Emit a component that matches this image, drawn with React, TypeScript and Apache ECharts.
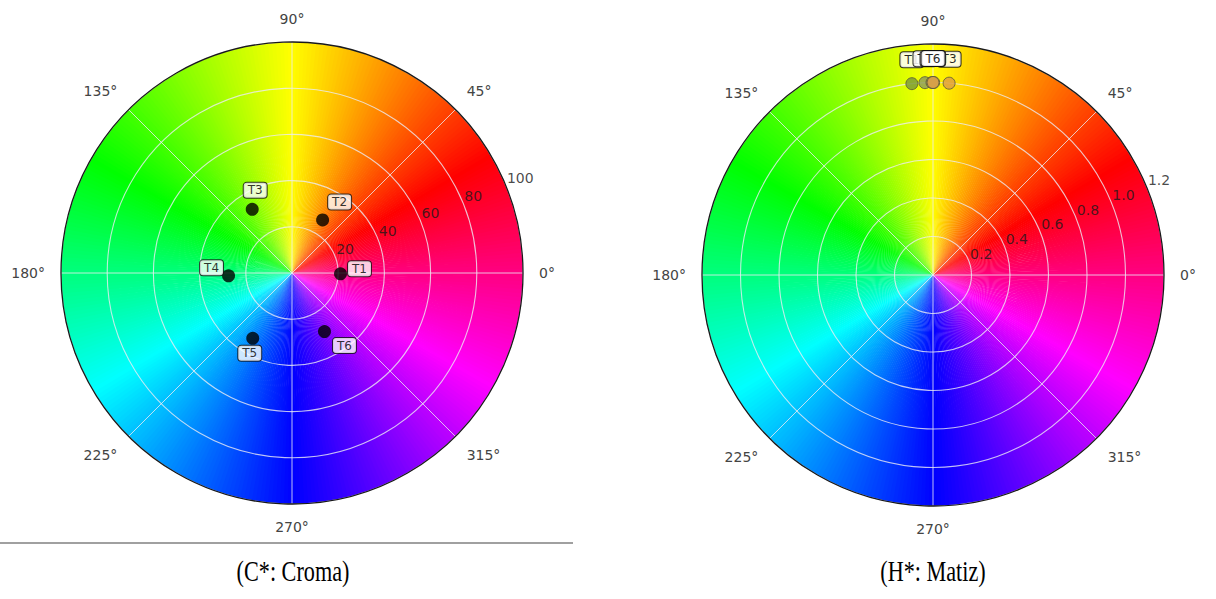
import React, { useEffect, useRef } from "react";
import * as echarts from "echarts";

// ---- data ----
const sampleNames = ["T1", "T2", "T3", "T4", "T5", "T6"];
// left wheel: hue angle (deg) and chroma C*
const chromaAngle = [359, 60, 122, 182.5, 239, 299];
const chromaValue = [21, 26.5, 32.5, 27.5, 33, 29];
// right wheel: hue angle (deg) and radius
const matizAngle = [96.3, 92.4, 85.2, 90.3, 89.8, 90.0];
const matizRadius = [1.0, 1.0, 1.0, 1.0, 1.0, 1.0];
// ticks
const angleTicks = [0, 45, 90, 135, 180, 225, 270, 315];
const chromaTicks = [20, 40, 60, 80, 100];
const matizTicks = [0.2, 0.4, 0.6, 0.8, 1.0, 1.2];
const captions = ["(C*: Croma)", "(H*: Matiz)"];

// ---- styles ----
const chromaLabelOffset = [
  [19, -5],
  [17, -18],
  [3, -19],
  [-17, -8],
  [-3, 15],
  [20, 14],
];
const matizDotColor = ["#7d9b3a", "#8f9f5a", "#e0a040", "#b8a050", "#c8a050", "#d8a048"];
const gridColor = "rgba(236,236,244,0.8)";
const FONT = "DejaVu Sans";

function hslToHex(h: number, s: number, l: number) {
  s /= 100;
  l /= 100;
  const k = (n: number) => (n + h / 30) % 12;
  const a = s * Math.min(l, 1 - l);
  const f = (n: number) => l - a * Math.max(-1, Math.min(k(n) - 3, Math.min(9 - k(n), 1)));
  const hx = (x: number) => Math.round(x * 255).toString(16).padStart(2, "0");
  return "#" + hx(f(0)) + hx(f(8)) + hx(f(4));
}

const wheelRender = (params: any) => {
  const cs = params.coordSys;
  const children: any[] = [];
  for (let a = 0; a < 360; a += 1) {
    const hue = (((a - 30) % 360) + 360) % 360;
    children.push({
      type: "sector",
      shape: {
        cx: cs.cx,
        cy: cs.cy,
        r0: 0,
        r: cs.r,
        startAngle: (-(a + 1.3) * Math.PI) / 180,
        endAngle: (-a * Math.PI) / 180,
        clockwise: true,
      },
      style: { fill: hslToHex(hue, 100, 50) },
      silent: true,
    });
  }
  return { type: "group", children };
};

function angleAxisFor(idx: number) {
  return {
    polarIndex: idx,
    type: "value",
    min: 0,
    max: 360,
    interval: 45,
    startAngle: 0,
    clockwise: false,
    z: 6,
    axisLine: { show: true, lineStyle: { color: "#1a1a1a", width: 1.3 } },
    axisTick: { show: false },
    axisLabel: {
      show: true,
      margin: 16,
      color: "#444",
      fontSize: 14,
      fontFamily: FONT,
      formatter: (v: number) => (angleTicks.includes(v) ? `${v}°` : ""),
    },
    splitLine: { show: true, lineStyle: { color: gridColor, width: 1 } },
  };
}

function radiusAxisFor(idx: number, max: number, interval: number) {
  return {
    polarIndex: idx,
    type: "value",
    min: 0,
    max,
    interval,
    z: 5,
    axisLine: { show: false },
    axisTick: { show: false },
    axisLabel: { show: false },
    splitLine: { show: true, lineStyle: { color: gridColor, width: 1.1 } },
  };
}

function tickLabelSeries(idx: number, ticks: number[], fmt: (v: number) => string) {
  return {
    type: "scatter",
    coordinateSystem: "polar",
    polarIndex: idx,
    z: 8,
    silent: true,
    symbolSize: 1,
    itemStyle: { color: "rgba(0,0,0,0)" },
    data: ticks.map((t) => [t, 22.5]),
    label: {
      show: true,
      position: [2, 1],
      align: "left",
      verticalAlign: "bottom",
      color: "#1a1a1a",
      fontSize: 14,
      fontFamily: FONT,
      formatter: (p: any) => fmt(p.value[0]),
    },
  };
}

const boxLabel = {
  show: true,
  position: "inside",
  color: "#000",
  fontSize: 12,
  fontFamily: FONT,
  backgroundColor: "#fff",
  borderColor: "#111",
  borderWidth: 1,
  borderRadius: 3,
  padding: [2, 4, 1, 4],
  formatter: "{b}",
};

export default function App() {
  const ref = useRef<HTMLDivElement>(null);
  useEffect(() => {
    if (!ref.current) return;
    const chart = echarts.init(ref.current, undefined, { renderer: "svg" });
    chart.setOption({
      animation: false,
      backgroundColor: "#fff",
      polar: [
        { center: [292, 273], radius: 231 },
        { center: [933, 275], radius: 231 },
      ],
      angleAxis: [angleAxisFor(0), angleAxisFor(1)],
      radiusAxis: [radiusAxisFor(0, 100, 20), radiusAxisFor(1, 1.2, 0.2)],
      series: [
        {
          type: "custom",
          coordinateSystem: "polar",
          polarIndex: 0,
          z: 1,
          silent: true,
          data: [[100, 0]],
          renderItem: wheelRender,
        },
        {
          type: "custom",
          coordinateSystem: "polar",
          polarIndex: 1,
          z: 1,
          silent: true,
          data: [[1.2, 0]],
          renderItem: wheelRender,
        },
        tickLabelSeries(0, chromaTicks, (v) => String(v)),
        tickLabelSeries(1, matizTicks, (v) => v.toFixed(1)),
        {
          type: "scatter",
          coordinateSystem: "polar",
          polarIndex: 0,
          z: 10,
          symbolSize: 13,
          itemStyle: { color: "#000" },
          data: sampleNames.map((n, i) => ({
            name: n,
            value: [chromaValue[i], chromaAngle[i]],
            label: { ...boxLabel, offset: chromaLabelOffset[i] },
          })),
          label: boxLabel,
        },
        {
          type: "scatter",
          coordinateSystem: "polar",
          polarIndex: 1,
          z: 10,
          symbolSize: 12,
          data: sampleNames.map((n, i) => ({
            name: n,
            value: [matizRadius[i], matizAngle[i]],
            itemStyle: {
              color: matizDotColor[i],
              opacity: 0.85,
              borderColor: "#5a5a3a",
              borderWidth: 1,
            },
            label: { ...boxLabel, offset: [0, -24] },
          })),
          label: boxLabel,
        },
      ],
      graphic: [
        {
          type: "line",
          shape: { x1: 0, y1: 543, x2: 573, y2: 543 },
          style: { stroke: "#a0a0a0", lineWidth: 2 },
        },
        {
          type: "text",
          x: 293,
          y: 571,
          scaleX: 0.74,
          style: {
            text: captions[0],
            font: "30px 'Liberation Serif'",
            fill: "#000",
            align: "center",
            verticalAlign: "middle",
          },
        },
        {
          type: "text",
          x: 933,
          y: 571,
          scaleX: 0.74,
          style: {
            text: captions[1],
            font: "30px 'Liberation Serif'",
            fill: "#000",
            align: "center",
            verticalAlign: "middle",
          },
        },
      ],
    });
    return () => chart.dispose();
  }, []);
  return (
    <div
      ref={ref}
      style={{ position: "absolute", left: 0, top: 0, width: 1216, height: 599 }}
    />
  );
}
